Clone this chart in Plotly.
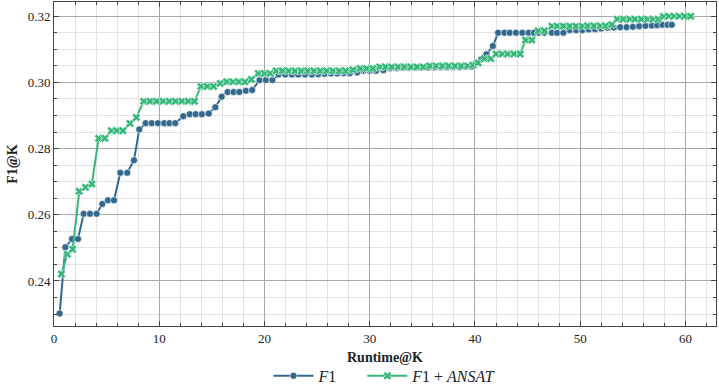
import plotly.graph_objects as go

# F1 series (blue circles)
f1_runtime = [0.54, 1.08, 1.71, 2.28, 2.82, 3.42, 4.05, 4.59, 5.13, 5.70,
              6.30, 6.96, 7.60, 8.10, 8.71, 9.28, 9.88, 10.47, 10.97, 11.52,
              12.28, 12.90, 13.46, 14.05, 14.70, 15.33, 15.93, 16.50, 17.06, 17.60,
              18.23, 18.83, 19.53, 20.13, 20.75, 21.34, 21.97, 22.60, 23.20, 23.85,
              24.50, 25.10, 25.70, 26.30, 26.90, 27.50, 28.10, 28.80, 29.40, 30.00,
              30.60, 31.30, 31.90, 32.50, 33.10, 33.70, 34.30, 34.90, 35.50, 36.10,
              36.70, 37.30, 37.90, 38.50, 39.10, 39.60, 40.10, 40.60, 41.10, 41.70,
              42.20, 42.80, 43.30, 43.90, 44.50, 45.10, 45.60, 46.10, 46.60, 47.30,
              47.80, 48.40, 49.00, 49.60, 50.20, 50.80, 51.40, 52.00, 52.60, 53.20,
              53.80, 54.40, 55.00, 55.60, 56.20, 56.80, 57.30, 57.80, 58.30, 58.70]
f1_score = [0.2302, 0.2502, 0.2527, 0.2527, 0.2603, 0.2603, 0.2603, 0.2633, 0.2644, 0.2644,
            0.2727, 0.2727, 0.2765, 0.2858, 0.2877, 0.2877, 0.2877, 0.2877, 0.2877, 0.2877,
            0.2898, 0.2904, 0.2904, 0.2904, 0.2906, 0.2925, 0.2957, 0.2971, 0.2971, 0.2971,
            0.2975, 0.2977, 0.3007, 0.3007, 0.3007, 0.3024, 0.3024, 0.3024, 0.3024, 0.3024,
            0.3024, 0.3025, 0.3026, 0.3027, 0.3027, 0.3028, 0.3028, 0.3030, 0.3035, 0.3035,
            0.3035, 0.3037, 0.3043, 0.3043, 0.3044, 0.3044, 0.3044, 0.3045, 0.3045, 0.3045,
            0.3046, 0.3046, 0.3046, 0.3046, 0.3047, 0.3047, 0.3059, 0.3070, 0.3085, 0.3110,
            0.3150, 0.3150, 0.3150, 0.3150, 0.3150, 0.3150, 0.3150, 0.3150, 0.3150, 0.3150,
            0.3150, 0.3150, 0.3158, 0.3158, 0.3158, 0.3160, 0.3161, 0.3163, 0.3165, 0.3166,
            0.3167, 0.3167, 0.3168, 0.3170, 0.3171, 0.3172, 0.3173, 0.3174, 0.3174, 0.3174]

# F1 + ANSAT series (green crosses)
ansat_runtime = [0.70, 1.27, 1.77, 2.40, 3.00, 3.60, 4.24, 4.84, 5.44, 5.95,
                 6.55, 7.22, 7.82, 8.52, 9.12, 9.75, 10.38, 10.95, 11.55, 12.15,
                 12.75, 13.35, 13.96, 14.56, 15.16, 15.80, 16.40, 17.00, 17.55, 18.15,
                 18.75, 19.40, 20.00, 20.55, 21.10, 21.70, 22.30, 22.90, 23.50, 24.10,
                 24.70, 25.30, 25.90, 26.50, 27.10, 27.70, 28.40, 29.10, 29.70, 30.30,
                 30.96, 31.50, 32.10, 32.70, 33.30, 33.90, 34.50, 35.10, 35.70, 36.30,
                 36.90, 37.50, 38.10, 38.70, 39.30, 39.80, 40.30, 40.90, 41.50, 42.00,
                 42.60, 43.10, 43.70, 44.30, 44.80, 45.40, 46.00, 46.60, 47.30, 47.80,
                 48.40, 49.00, 49.60, 50.20, 50.70, 51.30, 51.90, 52.40, 53.00, 53.50,
                 54.10, 54.70, 55.20, 55.80, 56.40, 56.90, 57.40, 57.90, 58.40, 58.90,
                 59.40, 59.90, 60.50]
ansat_score = [0.2421, 0.2481, 0.2496, 0.2671, 0.2683, 0.2693, 0.2831, 0.2831, 0.2854, 0.2854,
               0.2854, 0.2876, 0.2894, 0.2943, 0.2943, 0.2943, 0.2943, 0.2943, 0.2943, 0.2943,
               0.2943, 0.2943, 0.2988, 0.2988, 0.2988, 0.2997, 0.3002, 0.3002, 0.3002, 0.3002,
               0.3009, 0.3027, 0.3027, 0.3027, 0.3035, 0.3035, 0.3035, 0.3035, 0.3035, 0.3035,
               0.3035, 0.3035, 0.3035, 0.3035, 0.3035, 0.3035, 0.3038, 0.3042, 0.3042, 0.3042,
               0.3047, 0.3047, 0.3047, 0.3047, 0.3047, 0.3047, 0.3047, 0.3047, 0.3050, 0.3050,
               0.3050, 0.3050, 0.3050, 0.3050, 0.3050, 0.3052, 0.3059, 0.3072, 0.3072, 0.3086,
               0.3086, 0.3086, 0.3086, 0.3086, 0.3128, 0.3128, 0.3156, 0.3156, 0.3170, 0.3170,
               0.3170, 0.3170, 0.3170, 0.3170, 0.3171, 0.3171, 0.3171, 0.3171, 0.3175, 0.3191,
               0.3191, 0.3191, 0.3191, 0.3191, 0.3191, 0.3191, 0.3191, 0.3199, 0.3200, 0.3200,
               0.3200, 0.3200, 0.3200]

x_ticks = [0, 10, 20, 30, 40, 50, 60]
y_ticks = [0.24, 0.26, 0.28, 0.30, 0.32]

BLUE = "#31688e"
GREEN = "#35b779"
FONT = "Liberation Serif"

fig = go.Figure()
fig.add_trace(go.Scatter(
    x=f1_runtime, y=f1_score, mode="lines+markers", name="<i>F</i>1&nbsp;&nbsp;&nbsp;&nbsp;&nbsp;",
    line=dict(color=BLUE, width=2),
    marker=dict(symbol="circle", size=7, color=BLUE, line=dict(color="white", width=0.6)),
))
fig.add_trace(go.Scatter(
    x=ansat_runtime, y=ansat_score, mode="lines+markers", name="<i>F</i>1 + <i>ANSAT</i>",
    line=dict(color=GREEN, width=2),
    marker=dict(symbol="x", size=7.5, color=GREEN, line=dict(color="white", width=0.6)),
))

axis_common = dict(
    showline=True, linecolor="#444444", linewidth=1, mirror="allticks",
    ticks="inside", ticklen=5, tickcolor="#444444",
    showgrid=True, gridcolor="#a8a8a8", gridwidth=1, zeroline=False,
    tickfont=dict(family=FONT, size=13, color="#222222"),
)

fig.update_xaxes(
    **axis_common, range=[0, 62.9], tickvals=x_ticks,
    minor=dict(dtick=2, tick0=0, showgrid=True, gridcolor="#e2e2e2", ticks="inside", ticklen=3, tickcolor="#444444"),
    title=dict(text="<b>Runtime@K</b>", font=dict(family=FONT, size=14, color="#222222"), standoff=7),
)
fig.update_yaxes(
    **axis_common, range=[0.2264, 0.3243], tickvals=y_ticks, tickformat=".2f",
    minor=dict(dtick=0.005, tick0=0.24, showgrid=True, gridcolor="#e2e2e2", ticks="inside", ticklen=3, tickcolor="#444444"),
    title=dict(text="<b>F1@K</b>", font=dict(family=FONT, size=14, color="#222222"), standoff=6),
)

fig.update_layout(
    width=719, height=386,
    margin=dict(l=54, r=3, t=2, b=60, autoexpand=False),
    plot_bgcolor="white", paper_bgcolor="white",
    font=dict(family=FONT, size=13, color="#222222"),
    legend=dict(orientation="h", x=0.5, xanchor="center", y=-0.154, yanchor="middle",
                font=dict(family=FONT, size=16), itemwidth=40),
)

fig.write_html("out.html")
